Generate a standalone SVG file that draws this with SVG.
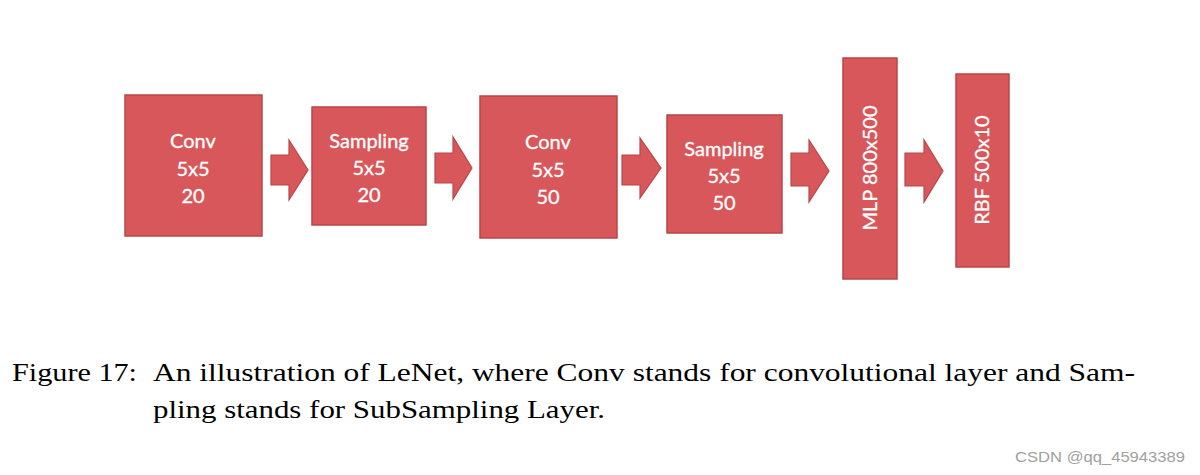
<svg xmlns="http://www.w3.org/2000/svg" width="1200" height="475" viewBox="0 0 1200 475">
<style>
.box{fill:#d8575a;stroke:#b94648;stroke-width:1.5}
.arr{fill:#d8575a;stroke:#b94648;stroke-width:1.2}
.lbl{font-family:Lato,"Open Sans",sans-serif;font-size:20px;fill:#ffffff;text-anchor:middle;stroke:#ffffff;stroke-width:0.3}
.cap{font-family:"Liberation Serif",serif;font-size:25px;fill:#000000}
.wm{font-family:"Liberation Sans",sans-serif;font-size:15px;fill:#a0a0a0}
</style>
<rect width="1200" height="475" fill="#ffffff"/>
<g id="conv1"><rect class="box" x="125" y="95" width="137" height="141"/>
<text class="lbl" x="193" y="148">Conv</text><text class="lbl" x="193" y="176">5x5</text><text class="lbl" x="193" y="203">20</text></g>
<g id="sampling1"><rect class="box" x="312" y="107" width="114" height="118"/>
<text class="lbl" x="369" y="148">Sampling</text><text class="lbl" x="369" y="175">5x5</text><text class="lbl" x="369" y="202">20</text></g>
<g id="conv2"><rect class="box" x="480" y="96" width="137" height="142"/>
<text class="lbl" x="548" y="149">Conv</text><text class="lbl" x="548" y="177">5x5</text><text class="lbl" x="548" y="204">50</text></g>
<g id="sampling2"><rect class="box" x="667" y="115" width="115" height="118"/>
<text class="lbl" x="724" y="156">Sampling</text><text class="lbl" x="724" y="183">5x5</text><text class="lbl" x="724" y="210">50</text></g>
<g id="mlp"><rect class="box" x="843" y="58" width="54" height="221"/>
<text class="lbl" transform="translate(877,168) rotate(-90)" x="0" y="0">MLP 800x500</text></g>
<g id="rbf"><rect class="box" x="956" y="74" width="53" height="193"/>
<text class="lbl" transform="translate(989,170) rotate(-90)" x="0" y="0">RBF 500x10</text></g>
<g id="connectors">
<path class="arr" d="M271,155 H289 V140 L308,170 L289,200 V185 H271 Z"/>
<path class="arr" d="M435,153 H453 V137 L472,168 L453,199 V183 H435 Z"/>
<path class="arr" d="M622,155 H640 V138 L661,168 L640,198 V185 H622 Z"/>
<path class="arr" d="M791,153 H809 V140 L829,171 L809,202 V186 H791 Z"/>
<path class="arr" d="M905,153 H924 V140 L943,171 L924,202 V186 H905 Z"/>
</g>
<text class="cap" x="12" y="381" textLength="125" lengthAdjust="spacingAndGlyphs">Figure 17:</text>
<text class="cap" x="153" y="381" textLength="982" lengthAdjust="spacingAndGlyphs">An illustration of LeNet, where Conv stands for convolutional layer and Sam-</text>
<text class="cap" x="153" y="418" textLength="452" lengthAdjust="spacingAndGlyphs">pling stands for SubSampling Layer.</text>
<text class="wm" x="1015" y="462" textLength="170" lengthAdjust="spacingAndGlyphs">CSDN @qq_45943389</text>
</svg>
